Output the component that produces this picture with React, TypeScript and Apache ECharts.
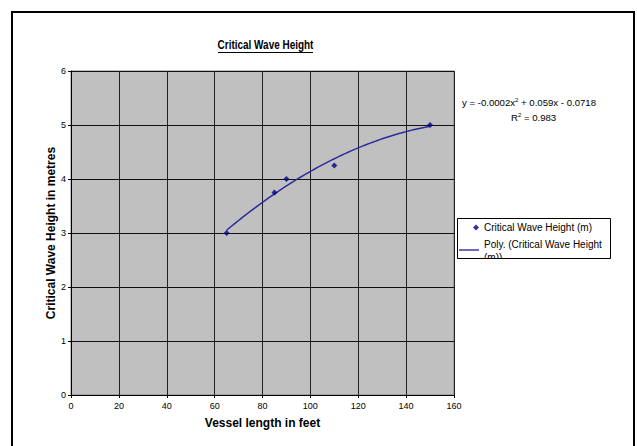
import React, { useEffect, useRef } from "react";
import * as echarts from "echarts";

const vesselLength = [65, 85, 90, 110, 150];
const waveHeight = [3, 3.75, 4, 4.25, 5];
const xTicks = [0, 20, 40, 60, 80, 100, 120, 140, 160];
const yTicks = [0, 1, 2, 3, 4, 5, 6];
const chartTitle = "Critical Wave Height";
const pointsName = "Critical Wave Height (m)";
const fitName = "Poly. (Critical Wave Height (m))";

function quadFit(xs: number[], ys: number[]) {
  // least squares y = a x^2 + b x + c
  let s0 = 0, s1 = 0, s2 = 0, s3 = 0, s4 = 0, t0 = 0, t1 = 0, t2 = 0;
  for (let i = 0; i < xs.length; i++) {
    const x = xs[i], y = ys[i];
    s0 += 1; s1 += x; s2 += x * x; s3 += x * x * x; s4 += x * x * x * x;
    t0 += y; t1 += x * y; t2 += x * x * y;
  }
  const M = [
    [s4, s3, s2, t2],
    [s3, s2, s1, t1],
    [s2, s1, s0, t0],
  ];
  for (let i = 0; i < 3; i++) {
    for (let j = i + 1; j < 3; j++) {
      const f = M[j][i] / M[i][i];
      for (let k = i; k < 4; k++) M[j][k] -= f * M[i][k];
    }
  }
  const r = [0, 0, 0];
  for (let i = 2; i >= 0; i--) {
    let s = M[i][3];
    for (let k = i + 1; k < 3; k++) s -= M[i][k] * r[k];
    r[i] = s / M[i][i];
  }
  return r;
}

export default function App() {
  const ref = useRef<HTMLDivElement>(null);
  useEffect(() => {
    if (!ref.current) return;
    const chart = echarts.init(ref.current, undefined, { renderer: "svg" });
    const [a, b, c] = quadFit(vesselLength, waveHeight);
    const xMin = Math.min(...vesselLength);
    const xMax = Math.max(...vesselLength);
    const fit: number[][] = [];
    for (let x = xMin; x <= xMax + 1e-9; x += 1) fit.push([x, a * x * x + b * x + c]);
    const font = "Liberation Sans, Arial, sans-serif";
    chart.setOption({
      animation: false,
      backgroundColor: "#ffffff",
      grid: {
        left: 71,
        top: 71,
        right: 183,
        bottom: 51,
        show: true,
        backgroundColor: "#c0c0c0",
        borderColor: "#808080",
        borderWidth: 1,
      },
      xAxis: {
        type: "value",
        min: xTicks[0],
        max: xTicks[xTicks.length - 1],
        interval: 20,
        name: "Vessel length in feet",
        nameLocation: "middle",
        nameGap: 22,
        nameMoveOverlap: false,
        nameTextStyle: { fontFamily: font, fontSize: 12, fontWeight: "bold", color: "#000" },
        axisLine: { show: true, lineStyle: { color: "#000", width: 1 } },
        axisTick: { show: true, length: 3, lineStyle: { color: "#000" } },
        axisLabel: { fontFamily: font, fontSize: 9, color: "#000", margin: 6 },
        splitLine: { show: true, lineStyle: { color: "#222", width: 1 } },
      },
      yAxis: {
        type: "value",
        min: yTicks[0],
        max: yTicks[yTicks.length - 1],
        interval: 1,
        name: "Critical Wave Height in metres",
        nameLocation: "middle",
        nameGap: 14,
        nameMoveOverlap: false,
        nameTextStyle: { fontFamily: font, fontSize: 12, fontWeight: "bold", color: "#000" },
        axisLine: { show: true, lineStyle: { color: "#000", width: 1 } },
        axisTick: { show: true, length: 3, lineStyle: { color: "#000" } },
        axisLabel: { fontFamily: font, fontSize: 9, color: "#000", margin: 5 },
        splitLine: { show: true, lineStyle: { color: "#111", width: 1 } },
      },
      legend: {
        orient: "vertical",
        left: 458,
        top: 219,
        padding: [2, 1],
        itemGap: 4,
        itemWidth: 20,
        itemHeight: 6,
        textStyle: { fontFamily: font, fontSize: 10, color: "#000", width: 128, overflow: "break", lineHeight: 13 },
        data: [
          { name: pointsName, icon: "path://M0,0 M20,6 M17,0 L20,3 L17,6 L14,3 Z" },
          { name: fitName, icon: "path://M0,0 M20,6 M0,1.3 L20,1.3 L20,2.7 L0,2.7 Z" },
        ],
      },
      graphic: [
        {
          type: "text",
          x: 265.5,
          y: 45,
          scaleX: 0.83,
          style: {
            text: chartTitle,
            fontFamily: font,
            fontSize: 12,
            fontWeight: "bold",
            fill: "#000",
            textAlign: "center",
            textVerticalAlign: "middle",
          },
        },
        {
          type: "text",
          left: 462,
          top: 97,
          style: {
            text: "y = -0.0002x{s|2} + 0.059x - 0.0718",
            fontFamily: font,
            fontSize: 9.6,
            fill: "#000",
            rich: { s: { fontSize: 6, padding: [0, 0, 5, 0], fontFamily: font } },
          },
        },
        {
          type: "text",
          left: 511,
          top: 112,
          style: {
            text: "R{s|2} = 0.983",
            fontFamily: font,
            fontSize: 9.6,
            fill: "#000",
            rich: { s: { fontSize: 6, padding: [0, 0, 5, 0], fontFamily: font } },
          },
        },
        {
          type: "line",
          z: 100,
          shape: { x1: 218, y1: 52.5, x2: 313, y2: 52.5 },
          style: { stroke: "#000", lineWidth: 1 },
        },
        {
          type: "rect",
          z: 100,
          shape: { x: 457.5, y: 258.5, width: 153, height: 16 },
          style: { fill: "#ffffff", stroke: null },
        },
        {
          type: "rect",
          z: 101,
          shape: { x: 457.5, y: 218.5, width: 153, height: 40 },
          style: { fill: null, stroke: "#000", lineWidth: 1 },
        },
        {
          type: "rect",
          z: 101,
          shape: { x: 12, y: 12, width: 622, height: 460 },
          style: { fill: null, stroke: "#000", lineWidth: 2 },
        },
      ],
      series: [
        {
          name: pointsName,
          type: "scatter",
          symbol: "diamond",
          symbolSize: 6,
          itemStyle: { color: "#000080" },
          data: vesselLength.map((x, i) => [x, waveHeight[i]]),
          z: 3,
        },
        {
          name: fitName,
          type: "line",
          showSymbol: false,
          symbol: "none",
          smooth: false,
          lineStyle: { color: "#2b2b9e", width: 1.5 },
          itemStyle: { color: "#2b2b9e" },
          data: fit,
          z: 2,
        },
      ],
    });
    return () => chart.dispose();
  }, []);
  return (
    <div
      ref={ref}
      style={{ position: "fixed", left: 0, top: 0, width: 637, height: 446 }}
    />
  );
}
